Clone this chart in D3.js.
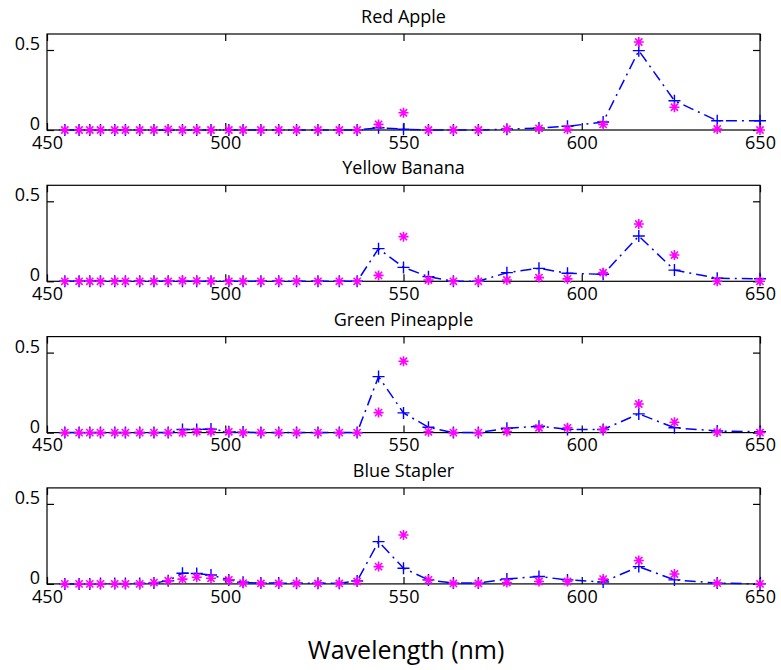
<!DOCTYPE html>
<html>
<head>
<meta charset="utf-8">
<script src="https://cdn.jsdelivr.net/npm/d3@7"></script>
<style>
  html, body { margin: 0; padding: 0; background: #fff; }
  svg { display: block; font-family: "Open Sans", "DejaVu Sans", sans-serif; }
</style>
</head>
<body>
<svg id="chart" width="781" height="670"></svg>
<script>
const wavelengths = [455, 459, 462, 465, 469, 472, 476, 480, 484, 488, 492, 496, 501, 505, 510, 515, 520, 526, 532, 537, 543, 550, 557, 564, 571, 579, 588, 596, 606, 616, 626, 638, 650];

const titles = ["Red Apple", "Yellow Banana", "Green Pineapple", "Blue Stapler"];

const redAppleBlue = [0, 0, 0, 0, 0, 0, 0, 0, 0, 0, 0, 0, 0, 0, 0, 0, 0, 0, 0, 0, 0.014, 0.005, 0, 0, 0, 0.005, 0.012, 0.023, 0.05, 0.496, 0.183, 0.058, 0.058];
const redAppleMagenta = [0, 0, 0, 0, 0, 0, 0, 0, 0.004, 0, 0, 0, 0, 0, 0, 0, 0, 0, 0, 0, 0.035, 0.108, 0, 0, 0, 0.005, 0.01, 0.004, 0.035, 0.55, 0.142, 0.006, 0];

const yellowBananaBlue = [0, 0, 0, 0, 0, 0, 0, 0, 0, 0, 0, 0, 0, 0, 0, 0, 0, 0, 0, 0, 0.204, 0.087, 0.029, 0, 0, 0.054, 0.081, 0.05, 0.044, 0.283, 0.07, 0.019, 0.016];
const yellowBananaMagenta = [0, 0, 0, 0, 0, 0, 0, 0, 0, 0.004, 0.003, 0.002, 0, 0, 0, 0, 0, 0, 0, 0, 0.037, 0.279, 0.008, 0, 0, 0.008, 0.023, 0.015, 0.054, 0.358, 0.164, 0, 0];

const greenPineappleBlue = [0, 0, 0, 0, 0, 0, 0, 0, 0, 0.019, 0.02, 0.022, 0.005, 0.003, 0, 0, 0, 0, 0, 0, 0.35, 0.123, 0.033, 0, 0, 0.027, 0.04, 0.02, 0.019, 0.117, 0.03, 0.01, 0.005];
const greenPineappleMagenta = [0, 0, 0, 0, 0, 0, 0, 0, 0, 0, 0.006, 0.006, 0.005, 0, 0, 0, 0, 0, 0, 0, 0.125, 0.446, 0.005, 0, 0, 0.007, 0.03, 0.03, 0.019, 0.179, 0.065, 0.003, 0];

const blueStaplerBlue = [0, 0, 0, 0.002, 0.002, 0.002, 0.003, 0.005, 0.02, 0.067, 0.065, 0.056, 0.025, 0.01, 0.005, 0.005, 0.004, 0.004, 0.004, 0.018, 0.264, 0.098, 0.025, 0.005, 0.005, 0.031, 0.046, 0.025, 0.012, 0.108, 0.025, 0.005, 0];
const blueStaplerMagenta = [0, 0, 0, 0, 0, 0, 0, 0.008, 0.02, 0.03, 0.042, 0.035, 0.025, 0.005, 0.003, 0.003, 0.003, 0.003, 0.003, 0.015, 0.108, 0.306, 0.025, 0.003, 0.003, 0.008, 0.015, 0.015, 0.03, 0.146, 0.062, 0.005, 0];

const blueSeries = [redAppleBlue, yellowBananaBlue, greenPineappleBlue, blueStaplerBlue];
const magentaSeries = [redAppleMagenta, yellowBananaMagenta, greenPineappleMagenta, blueStaplerMagenta];

const xTicks = [450, 500, 550, 600, 650];
const yTicks = [0, 0.5];
const xDomain = [450, 650];
const yDomain = [0, 0.6];
const xLabel = "Wavelength (nm)";

const svg = d3.select("#chart");
const left = 47, right = 760;
const panelTop0 = 34, panelStep = 151.3, panelH = 96;
const tickLen = 7;

const x = d3.scaleLinear().domain(xDomain).range([left, right]);

titles.forEach((title, i) => {
  const top = panelTop0 + i * panelStep;
  const bottom = top + panelH;
  const y = d3.scaleLinear().domain(yDomain).range([bottom, top]);
  const g = svg.append("g");

  // box
  g.append("rect")
    .attr("x", left).attr("y", top)
    .attr("width", right - left).attr("height", bottom - top)
    .attr("fill", "none").attr("stroke", "#000").attr("stroke-width", 1.2);

  // ticks on all sides, pointing inward
  const xAxB = d3.axisBottom(x).tickValues(xTicks).tickSizeInner(-tickLen).tickSizeOuter(0).tickFormat(d3.format("d"));
  const gxb = g.append("g").attr("transform", `translate(0,${bottom})`).call(xAxB);
  const xAxT = d3.axisTop(x).tickValues(xTicks).tickSizeInner(-tickLen).tickSizeOuter(0).tickFormat("");
  const gxt = g.append("g").attr("transform", `translate(0,${top})`).call(xAxT);
  const yAxL = d3.axisLeft(y).tickValues(yTicks).tickSizeInner(-tickLen).tickSizeOuter(0).tickFormat(d => d === 0 ? "0" : d3.format(".1f")(d));
  const gyl = g.append("g").attr("transform", `translate(${left},0)`).call(yAxL);
  const yAxR = d3.axisRight(y).tickValues(yTicks).tickSizeInner(-tickLen).tickSizeOuter(0).tickFormat("");
  const gyr = g.append("g").attr("transform", `translate(${right},0)`).call(yAxR);

  [gxb, gxt, gyl, gyr].forEach(a => {
    a.select(".domain").remove();
    a.selectAll(".tick line").attr("stroke", "#000").attr("stroke-width", 1.2);
    a.selectAll("text").attr("fill", "#000").style("font-size", "18px").style("font-family", "'Open Sans', sans-serif");
  });
  gxb.selectAll("text").attr("dy", "0.71em").attr("y", 6);
  gyl.selectAll("text").attr("dy", "-0.02em").attr("x", -7);

  // title
  g.append("text")
    .attr("x", (left + right) / 2).attr("y", top - 11)
    .attr("text-anchor", "middle")
    .style("font-size", "18px")
    .text(title);

  const pts = wavelengths.map((w, k) => ({ w, b: blueSeries[i][k], m: magentaSeries[i][k] }));

  // blue dash-dot line
  const line = d3.line().x(d => x(d.w)).y(d => y(d.b));
  g.append("path").datum(pts)
    .attr("d", line)
    .attr("fill", "none").attr("stroke", "#0000ff").attr("stroke-width", 1.5)
    .attr("stroke-dasharray", "11,5,2,5");

  // blue plus markers
  const s = 6;
  g.append("g").selectAll("path.plus").data(pts).join("path")
    .attr("d", d => {
      const cx = x(d.w), cy = y(d.b);
      return `M${cx - s},${cy}H${cx + s}M${cx},${cy - s}V${cy + s}`;
    })
    .attr("stroke", "#0000ff").attr("stroke-width", 1.4).attr("fill", "none");

  // magenta asterisk markers
  const a = 5, ad = 3.6;
  g.append("g").selectAll("path.star").data(pts).join("path")
    .attr("d", d => {
      const cx = x(d.w), cy = y(d.m);
      return `M${cx - a},${cy}H${cx + a}M${cx},${cy - a}V${cy + a}` +
             `M${cx - ad},${cy - ad}L${cx + ad},${cy + ad}M${cx - ad},${cy + ad}L${cx + ad},${cy - ad}`;
    })
    .attr("stroke", "#ff00ff").attr("stroke-width", 1.6).attr("fill", "none");
});

svg.append("text")
  .attr("x", 406).attr("y", 659)
  .attr("text-anchor", "middle")
  .style("font-size", "25px")
  .text(xLabel);
</script>
</body>
</html>
